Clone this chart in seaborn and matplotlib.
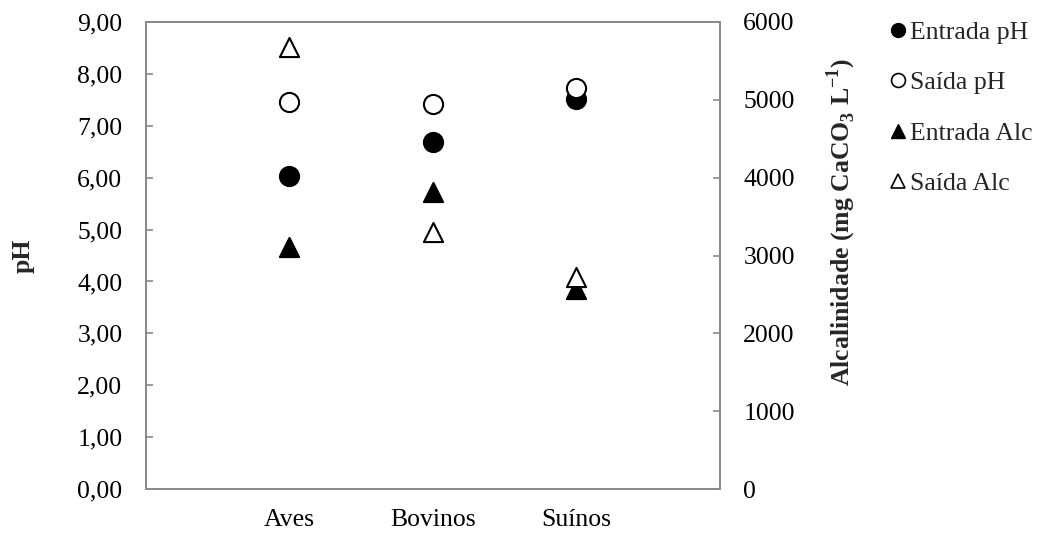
import pandas as pd
import matplotlib.pyplot as plt
import seaborn as sns
from matplotlib.lines import Line2D

# === Data ===
categories = ["Aves", "Bovinos", "Suínos"]
entrada_ph = [6.04, 6.69, 7.52]
saida_ph = [7.45, 7.41, 7.73]
entrada_alc = [3110, 3810, 2575]
saida_alc = [5680, 3300, 2730]

x_pos = [1, 2, 3]

sns.set_style("white")
plt.rcParams["font.family"] = ["Liberation Serif", "DejaVu Serif"]
plt.rcParams["mathtext.fontset"] = "custom"
plt.rcParams["mathtext.rm"] = "Liberation Serif"
plt.rcParams["mathtext.bf"] = "Liberation Serif:bold"

df = pd.DataFrame({"x": x_pos, "entrada_ph": entrada_ph, "saida_ph": saida_ph,
                   "entrada_alc": entrada_alc, "saida_alc": saida_alc})

fig = plt.figure(figsize=(10.43, 5.34), dpi=100)
ax = fig.add_axes([0.140, 0.084, 0.550, 0.875])
ax2 = ax.twinx()

ms = 190
sns.scatterplot(data=df, x="x", y="entrada_ph", ax=ax, marker="o", s=ms,
                color="black", edgecolor="black", linewidth=1.5, zorder=3)
sns.scatterplot(data=df, x="x", y="saida_ph", ax=ax, marker="o", s=ms,
                facecolor="white", edgecolor="black", linewidth=1.5, zorder=3)
sns.scatterplot(data=df, x="x", y="entrada_alc", ax=ax2, marker="^", s=ms,
                color="black", edgecolor="black", linewidth=1.5, zorder=3)
sns.scatterplot(data=df, x="x", y="saida_alc", ax=ax2, marker="^", s=ms,
                facecolor="white", edgecolor="black", linewidth=1.5, zorder=3)

fs = 18.5
gray = "#8a8a8a"

ax.set_xlim(0, 4)
ax.set_ylim(0, 9)
ax.set_yticks(range(0, 10))
ax.set_yticklabels([f"{v},00" for v in range(0, 10)], fontsize=fs)
ax.set_xticks(x_pos)
ax.set_xticklabels(categories, fontsize=fs)
ax.set_xlabel("")
ax.set_ylabel("pH", fontsize=fs, fontweight="bold", labelpad=31)

ax2.set_ylim(0, 6000)
ax2.set_yticks(range(0, 6001, 1000))
ax2.set_yticklabels([str(v) for v in range(0, 6001, 1000)], fontsize=fs)
ax2.set_ylabel(r"Alcalinidade (mg CaCO$_\mathbf{3}$ L$^\mathbf{-1}$)", fontsize=fs,
               fontweight="bold")
ax2.yaxis.set_label_coords(1.183, 0.572)

for a in (ax, ax2):
    for sp in a.spines.values():
        sp.set_visible(True)
        sp.set_color(gray)
        sp.set_linewidth(1.3)
    a.tick_params(axis="both", direction="in", length=5, width=1.2, color=gray,
                  pad=17, labelcolor="black")
    a.grid(False)
ax.tick_params(axis="x", pad=14)

handles = [
    Line2D([], [], linestyle="none", marker="o", markersize=10, color="black", markeredgecolor="black"),
    Line2D([], [], linestyle="none", marker="o", markersize=10, markerfacecolor="white", markeredgecolor="black", markeredgewidth=1.2),
    Line2D([], [], linestyle="none", marker="^", markersize=10, color="black", markeredgecolor="black"),
    Line2D([], [], linestyle="none", marker="^", markersize=10, markerfacecolor="white", markeredgecolor="black", markeredgewidth=1.2),
]
labels = ["Entrada pH", "Saída pH", "Entrada Alc", "Saída Alc"]
fig.legend(handles, labels, loc="upper left", bbox_to_anchor=(0.844, 0.98),
           frameon=False, fontsize=fs, handlelength=0.6, handletextpad=0.15,
           labelspacing=1.07, borderaxespad=0)

plt.savefig("out.png", dpi=100)
plt.close()
